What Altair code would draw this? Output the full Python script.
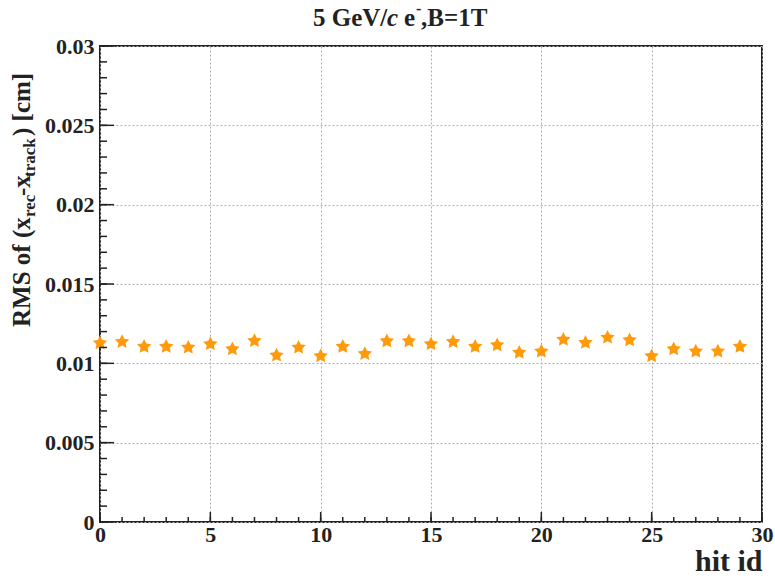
import altair as alt
import pandas as pd

# RMS of the residual (x_rec - x_track) per hit, 5 GeV/c electrons at B = 1 T
hit_id = list(range(30))
rms_cm = [0.01128, 0.01136, 0.01105, 0.01105, 0.01100, 0.01122, 0.01090, 0.01142, 0.01050, 0.01100,
          0.01046, 0.01105, 0.01060, 0.01140, 0.01140, 0.01122, 0.01136, 0.01105, 0.01115, 0.01068,
          0.01075, 0.01150, 0.01130, 0.01163, 0.01146, 0.01046, 0.01090, 0.01075, 0.01075, 0.01105]

x_major = [0, 5, 10, 15, 20, 25, 30]
x_minor = list(range(0, 31))
y_major = [0, 0.005, 0.01, 0.015, 0.02, 0.025, 0.03]
y_minor = [i / 1000 for i in range(0, 31)]

W, H = 662, 476
FONT = "Liberation Serif"
INK = "#222222"
ORANGE = "#ff9a0a"

xs = alt.Scale(domain=[0, 30], nice=False, zero=False)
ys = alt.Scale(domain=[0, 0.03], nice=False, zero=False)

x_axis = alt.Axis(
    values=x_major, title="hit id", format="d",
    ticks=False, domain=False, grid=True, gridDash=[2, 2], gridColor="#b0b0b0",
    labelFont=FONT, labelFontSize=22, labelFontWeight="bold", labelColor=INK,
    labelPadding=2, labelFlush=False,
    titleFont=FONT, titleFontSize=30, titleFontWeight="bold", titleColor=INK,
    titleX=W, titleY=39, titleAlign="right", titleBaseline="middle")
y_axis = alt.Axis(
    values=y_major, title=None, format="~g",
    ticks=False, domain=False, grid=True, gridDash=[2, 2], gridColor="#b0b0b0",
    labelFont=FONT, labelFontSize=22, labelFontWeight="bold", labelColor=INK,
    labelPadding=6, labelFlush=False)

df = pd.DataFrame({"hit": hit_id, "rms": rms_cm})

# five-pointed star symbol
STAR = ("M0,-1L0.294,-0.405L0.951,-0.309L0.476,0.155L0.588,0.809L0,0.5"
        "L-0.588,0.809L-0.476,0.155L-0.951,-0.309L-0.294,-0.405Z")

points = alt.Chart(df).mark_point(
    shape=STAR, filled=True, size=230, color=ORANGE, opacity=1
).encode(
    x=alt.X("hit:Q", scale=xs, axis=x_axis),
    y=alt.Y("rms:Q", scale=ys, axis=y_axis),
)


def xticks(vals, length):
    return alt.Chart(pd.DataFrame({"hit": vals})).mark_rule(color=INK, strokeWidth=1.5).encode(
        x=alt.X("hit:Q", scale=xs, axis=x_axis), y=alt.value(H), y2=alt.value(H - length))


def yticks(vals, length):
    return alt.Chart(pd.DataFrame({"rms": vals})).mark_rule(color=INK, strokeWidth=1.5).encode(
        y=alt.Y("rms:Q", scale=ys, axis=y_axis), x=alt.value(0), x2=alt.value(length))


def label(text, x, y, size=22, angle=0, style="normal", align="left", baseline="middle"):
    return alt.Chart(pd.DataFrame({"a": [0]})).mark_text(
        text=text, font=FONT, fontSize=size, fontWeight="bold", fontStyle=style,
        color=INK, angle=angle, align=align, baseline=baseline
    ).encode(x=alt.value(x), y=alt.value(y))


# title: 5 GeV/c e-,B=1T
TY = -28
title_parts = [
    label("5 GeV/", 213, TY, size=25),
    label("c", 287, TY, size=25, style="italic"),
    label("e", 304, TY, size=25),
    label("-", 316, TY - 9, size=16),
    label(",B=1T", 321, TY, size=25),
]

# y-axis title: RMS of (x_rec - x_track) [cm], read bottom to top
LX, SX = -78, -70
ylabel_parts = [
    label("RMS of (x", LX, 281, size=25, angle=270),
    label("rec", SX, 171, size=17, angle=270),
    label("-x", LX, 150, size=25, angle=270),
    label("track", SX, 131, size=17, angle=270),
    label(") [cm]", LX, 90, size=25, angle=270),
]

chart = alt.layer(
    points,
    xticks(x_minor, 5), xticks(x_major, 10),
    yticks(y_minor, 7), yticks(y_major, 14),
    *title_parts, *ylabel_parts,
).properties(
    width=W, height=H,
    autosize=alt.AutoSizeParams(type="none"),
    padding={"left": 100, "top": 46, "right": 13, "bottom": 54},
    background="white",
).configure_view(stroke=INK, strokeWidth=2)

chart.save("out.html", embed_options={"renderer": "svg", "actions": False})
